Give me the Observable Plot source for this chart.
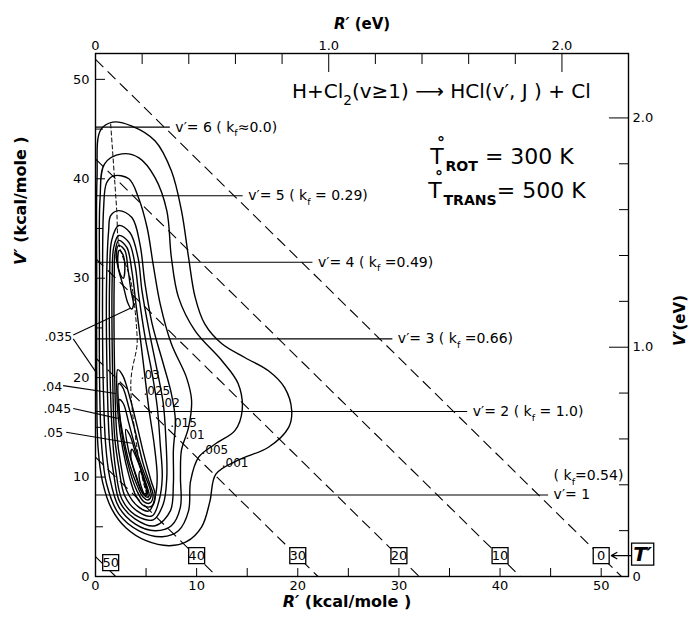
<!DOCTYPE html>
<html><head><meta charset="utf-8">
<script src="https://cdn.jsdelivr.net/npm/d3@7"></script>
<script src="https://cdn.jsdelivr.net/npm/@observablehq/plot@0.6"></script>
<style>body{margin:0;background:#fff} #chart svg{font-family:"DejaVu Sans",sans-serif;}</style>
</head><body><div id="chart"></div>
<script>
// ---------- data ----------
const E_TOTAL = 52.0;           // R'+V' at T' = 0 (kcal/mole)
const KCAL_PER_EV = 23.06;
const kcalTicksMajor = [0, 10, 20, 30, 40, 50];
const kcalTicksMinor = [5, 15, 25, 35, 45];
const evTicksMajor = [0, 1, 2];
const evTicksMinor = [0.2, 0.4, 0.6, 0.8, 1.2, 1.4, 1.6, 1.8];

const tPrimeValues = [0, 10, 20, 30, 40, 50];
const tBoxR = [50, 40, 30, 20, 10, 1.5];
const tBoxV = [2.1, 2.1, 2.1, 2.1, 2.1, 1.4];

const vLevels = [8.2, 16.6, 23.9, 31.6, 38.3, 45.2];
const vEnds = [44.8, 36.8, 29.4, 21.5, 14.6, 7.4];
const vNames = ["v′= 1", "v′= 2", "v′= 3", "v′= 4", "v′= 5", "v′= 6"];
const kfLabels = ["( k_{f}=0.54)", "( k_{f} = 1.0)", "( k_{f} =0.66)", "( k_{f} =0.49)", "( k_{f} = 0.29)", "( k_{f}≈0.0)"];

// contour lines (R', V') in kcal/mole
const contour001 = [[1.7,45.7],[3.6,45.3],[5.9,43.8],[7.5,40.8],[8.5,36.8],[9.2,32.1],[9.85,28.1],[10.8,25.4],[12.5,23.4],[14.8,22.0],[17.1,20.7],[18.7,19.0],[19.4,16.7],[19.1,15.0],[17.1,13.0],[14.1,11.7],[11.9,10.3],[11.3,7.5],[10.5,5.0],[9.0,3.5],[7.3,3.1],[5.0,3.6],[3.0,4.9],[1.6,6.8],[0.7,9.5],[0.25,13],[0.12,20],[0.12,30],[0.15,40],[0.5,44.9]];
const contour005 = [[2.6,42.5],[4.3,42.1],[5.9,40.1],[7.05,36.8],[7.5,32.1],[8.2,28.1],[9.85,24.7],[12.5,21.7],[14.1,19.4],[14.5,16.7],[13.8,14.7],[11.8,13.3],[10.2,12.0],[9.4,9.6],[9.2,6.6],[8.2,4.6],[6.6,4.0],[4.3,4.6],[2.3,6.3],[1.1,9.3],[0.6,13.3],[0.4,20],[0.4,30],[0.45,38],[0.9,41.5]];
const contour01 = [[1.8,40.3],[3.3,40.0],[4.25,38.1],[5.1,35.1],[5.7,31.4],[6.4,27.4],[7.5,23.4],[9.0,20.0],[9.5,17.7],[9.2,15.0],[8.5,12.7],[8.4,10.0],[8.4,7.0],[7.5,5.1],[5.9,4.6],[3.9,5.3],[2.3,7.0],[1.4,10.0],[1.0,13.3],[0.75,20],[0.7,30],[0.8,37],[1.1,39.6]];
const contour015 = [[2.3,36.8],[3.6,36.1],[4.4,33.4],[4.9,29.4],[5.6,25.4],[6.7,21.4],[7.5,18.4],[7.9,15.7],[7.7,12.7],[7.7,9.3],[7.4,6.6],[5.9,5.1],[3.9,5.8],[2.4,7.5],[1.8,10.3],[1.4,13.3],[1.15,20],[1.1,30],[1.3,34.8],[1.5,36.3]];
const contour02 = [[2.3,35.3],[3.4,34.6],[4.2,32.1],[4.6,28.7],[5.3,24.7],[6.1,20.7],[6.7,17.4],[6.95,14.0],[7.05,10.0],[6.7,7.3],[5.7,5.7],[3.9,6.2],[2.6,7.8],[2.0,10.7],[1.7,13.7],[1.45,20],[1.4,30],[1.6,33.8]];
const contour025 = [[2.3,34.3],[3.3,33.6],[3.9,31.4],[4.3,28.1],[4.9,24.1],[5.6,20.4],[6.1,17.1],[6.4,13.3],[6.6,10.0],[6.3,7.7],[5.6,6.1],[4.1,6.6],[2.9,8.1],[2.3,11.0],[1.9,14.0],[1.7,20],[1.65,30],[1.8,33.1]];
const contour03 = [[2.3,33.8],[3.1,33.1],[3.6,30.7],[4.0,27.4],[4.5,23.4],[4.9,20.0],[5.3,16.7],[5.8,13.3],[6.1,10.0],[5.9,8.0],[5.3,6.6],[4.25,7.0],[3.1,8.6],[2.5,11.3],[2.1,14.4],[1.9,20],[1.85,30],[1.95,32.7]];
const contour035Upper = [[2.3,33.3],[2.9,32.8],[3.2,31.0],[3.5,28.8],[3.75,27.3],[3.55,26.9],[3.2,27.5],[2.8,29.0],[2.3,30.8],[2.05,32.3]];
const contour04Upper = [[2.35,32.8],[2.7,32.4],[2.9,31.2],[2.75,30.0],[2.45,30.4],[2.2,31.6]];
const contour035Lower = [[2.2,20.8],[2.7,20.2],[3.4,18.0],[4.1,15.2],[4.8,12.2],[5.5,9.6],[5.9,8.2],[5.6,7.1],[4.8,7.1],[4.0,8.1],[3.3,10.2],[2.7,12.8],[2.25,16],[2.1,19]];
const contour04Lower = [[2.3,19.4],[2.7,19.0],[3.3,17.0],[4.0,14.3],[4.7,11.4],[5.4,9.2],[5.7,8.2],[5.4,7.4],[4.8,7.5],[4.1,8.6],[3.4,10.6],[2.8,13.2],[2.35,16.5]];
const contour045Lower = [[2.35,17.8],[2.75,17.4],[3.3,15.4],[4.0,12.8],[4.8,10.4],[5.4,8.8],[5.5,8.1],[5.2,7.7],[4.7,8.0],[4.1,9.2],[3.4,11.2],[2.8,13.8],[2.4,16.2]];
const contour05Lower = [[3.0,14.8],[3.4,14.2],[4.0,12.3],[4.7,10.2],[5.2,8.7],[5.3,8.1],[5.0,8.0],[4.5,8.7],[3.8,10.7],[3.2,13.0]];
const contour055Lower = [[3.6,12.8],[4.1,11.8],[4.8,9.8],[5.15,8.5],[5.0,8.15],[4.6,8.5],[4.0,10.2],[3.5,12.0]];
const contour06Lower = [[4.4,10.6],[4.9,9.2],[5.05,8.45],[4.85,8.3],[4.5,9.1],[4.3,10.1]];

const ridgeR = [1.5, 2.1, 2.3, 3.5, 4.1, 4.1, 3.5, 4.0, 4.7, 5.2];
const ridgeV = [45.5, 36.8, 33.5, 29.7, 24.4, 23.2, 19.7, 13.7, 9.6, 7.9];

const contourLabelText = [".03", ".025", ".02", ".015", ".01", ".005", ".001"];
const contourLabelR = [5.4, 6.06, 7.4, 8.7, 9.85, 11.8, 13.8];
const contourLabelV = [20.2, 18.6, 17.4, 15.4, 14.2, 12.7, 11.4];

const leftLabelText = [".035", ".04", ".045", ".05"];
const leftLabelR = [-2.3, -3.3, -2.4, -3.2];
const leftLabelV = [24.1, 19.1, 16.8, 14.4];
const leaderFromR = [-2.2, -2.2, -3.2, -2.2, -2.9];
const leaderFromV = [24.3, 23.9, 19.2, 16.9, 14.5];
const leaderToR = [3.5, 0.15, 2.0, 2.2, 3.6];
const leaderToV = [27.0, 20.4, 18.4, 15.9, 13.4];

// ---------- build tables ----------
const contourSets = [
  ["c001", contour001], ["c005", contour005], ["c01", contour01], ["c015", contour015],
  ["c02", contour02], ["c025", contour025], ["c03", contour03],
  ["c035u", contour035Upper], ["c04u", contour04Upper],
  ["c035l", contour035Lower], ["c04l", contour04Lower], ["c045l", contour045Lower], ["c05l", contour05Lower],
  ["c055l", contour055Lower], ["c06l", contour06Lower]
];
const contourRows = contourSets.flatMap(([id, pts]) => pts.map(([r, v]) => ({id, r, v})));
const ridgeRows = ridgeR.map((r, i) => ({r, v: ridgeV[i]}));

const evFmt = d => { const e = Math.round(d / KCAL_PER_EV * 10) / 10; return e === 0 ? "0" : e.toFixed(1); };

const svg = Plot.plot({
  width: 688, height: 620,
  marginLeft: 95, marginRight: 60, marginTop: 53, marginBottom: 44,
  style: {fontFamily: "DejaVu Sans, sans-serif", background: "white", color: "black"},
  x: {domain: [0, 52.7], axis: null},
  y: {domain: [0, 52.6], axis: null},
  marks: [
    // dashed T' lines
    Plot.link(tPrimeValues, {x1: () => 0, y1: t => E_TOTAL - t, x2: t => E_TOTAL - t, y2: () => 0,
      stroke: "black", strokeWidth: 1.1, strokeDasharray: "11,6"}),
    // v' lines
    Plot.ruleY(vLevels, {y: d => d, x1: () => 0, x2: (d, i) => vEnds[i], stroke: "black", strokeWidth: 1.1}),
    // contours
    Plot.line(contourRows, {x: "r", y: "v", z: "id", curve: "catmull-rom-closed", stroke: "black", strokeWidth: 1.4}),
    Plot.line(ridgeRows, {x: "r", y: "v", curve: "catmull-rom", stroke: "black", strokeWidth: 1, strokeDasharray: "4,3"}),
    // contour labels
    Plot.text(contourLabelText, {x: (d, i) => contourLabelR[i], y: (d, i) => contourLabelV[i], text: d => d, fontSize: 12, fill: "black"}),
    Plot.text(leftLabelText, {x: (d, i) => leftLabelR[i], y: (d, i) => leftLabelV[i], text: d => d, fontSize: 12.5, textAnchor: "end", fill: "black"}),
    Plot.link(leaderFromR, {x1: d => d, y1: (d, i) => leaderFromV[i], x2: (d, i) => leaderToR[i], y2: (d, i) => leaderToV[i], stroke: "black", strokeWidth: 1.1}),
    // v' labels
    Plot.text(vLevels, {x: (d, i) => vEnds[i], y: d => d, dx: 5, textAnchor: "start", fontSize: 14, fill: "black",
      text: (d, i) => i === 0 ? vNames[i] : vNames[i] + " " + kfLabels[i]}),
    Plot.text([vLevels[0]], {x: () => vEnds[0], y: d => d, dx: 5, dy: -19, textAnchor: "start", fontSize: 14, fill: "black", text: () => kfLabels[0]}),
    // T' boxes
    Plot.dot(tPrimeValues, {x: (t, i) => tBoxR[i], y: (t, i) => tBoxV[i], symbol: "square", r: 9, fill: "white", stroke: "black", strokeWidth: 1.3}),
    Plot.text(tPrimeValues, {x: (t, i) => tBoxR[i], y: (t, i) => tBoxV[i], text: t => String(t), fontSize: 13, fill: "black"}),
    Plot.arrow([0], {x1: () => 53.05, y1: () => 2.1, x2: () => 51.0, y2: () => 2.1, stroke: "black", strokeWidth: 1.2, headLength: 8}),
    Plot.dot([0], {x: () => 54.1, y: () => 2.25, symbol: "square", r: 12.5, fill: "white", stroke: "black", strokeWidth: 1.3}),
    Plot.text(["T′"], {x: () => 54.1, y: () => 2.25, text: d => d, fontSize: 20, fontWeight: "bold", fontStyle: "italic", fill: "black"}),
    // annotations
    Plot.text(["H+Cl_{2}(v≥1) ⟶ HCl(v′, J ) + Cl"], {x: () => 34.2, y: () => 48.1, text: d => d, lineAnchor: "bottom", textAnchor: "middle", fontSize: 20, fill: "black"}),
    Plot.text(["T^{°}!{ROT} = 300 K"], {x: () => 33.1, y: () => 41.5, text: d => d, lineAnchor: "bottom", textAnchor: "start", fontSize: 22, fill: "black"}),
    Plot.text(["T^{°}!{TRANS}= 500 K"], {x: () => 32.9, y: () => 38.1, text: d => d, lineAnchor: "bottom", textAnchor: "start", fontSize: 22, fill: "black"}),
    // axes
    Plot.frame({stroke: "black", strokeWidth: 1.4}),
    Plot.axisX(kcalTicksMajor, {anchor: "bottom", tickSize: -8, tickPadding: 12, fontSize: 13, label: null}),
    Plot.axisX(kcalTicksMinor, {anchor: "bottom", tickSize: -8, tickFormat: () => "", label: null}),
    Plot.axisY(kcalTicksMajor, {anchor: "left", tickSize: -10, tickPadding: 16, fontSize: 13, label: null}),
    Plot.axisY(kcalTicksMinor, {anchor: "left", tickSize: -8, tickFormat: () => "", label: null}),
    Plot.axisX(evTicksMajor.map(e => e * KCAL_PER_EV), {anchor: "top", tickSize: -18, tickPadding: 22, fontSize: 13, tickFormat: evFmt, label: null}),
    Plot.axisX(evTicksMinor.map(e => e * KCAL_PER_EV), {anchor: "top", tickSize: -10, tickFormat: () => "", label: null}),
    Plot.axisY(evTicksMajor.map(e => e * KCAL_PER_EV), {anchor: "right", tickSize: -20, tickPadding: 24, textAnchor: "start", fontSize: 13, tickFormat: evFmt, label: null}),
    Plot.axisY(evTicksMinor.map(e => e * KCAL_PER_EV), {anchor: "right", tickSize: -10, tickFormat: () => "", label: null}),
    // axis titles
    Plot.text(["~{R′} (kcal/mole )"], {frameAnchor: "bottom", dx: -15, dy: 30, text: d => d, fontSize: 16, fontWeight: "bold", fill: "black"}),
    Plot.text(["~{R′} (eV)"], {frameAnchor: "top", dx: 0, dy: -35, text: d => d, fontSize: 15, fontWeight: "bold", fill: "black"}),
    Plot.text(["~{V′} (kcal/mole )"], {frameAnchor: "left", dx: -75, dy: -50, rotate: -90, text: d => d, fontSize: 16, fontWeight: "bold", fill: "black"}),
    Plot.text(["~{V′}(eV)"], {frameAnchor: "right", dx: 52, dy: -20, rotate: -90, text: d => d, fontSize: 15, fontWeight: "bold", fill: "black"})
  ]
});
document.getElementById("chart").appendChild(svg);

// rich text: _{sub}, !{bold sub}, ^{ring over previous letter}, ~{italic}
function richText(root) {
  root.querySelectorAll("text").forEach(el => {
    const s = el.textContent;
    if (!/[_!~^]\{/.test(s)) return;
    const fs = parseFloat(getComputedStyle(el).fontSize) || 12;
    el.textContent = "";
    const re = /([_!~^])\{([^}]*)\}/g;
    let last = 0, m, shift = 0, pendingDx = 0;
    const add = (txt, kind) => {
      if (!txt) return;
      const ts = document.createElementNS("http://www.w3.org/2000/svg", "tspan");
      ts.textContent = txt;
      let target = 0;
      if (kind === "_" || kind === "!") {
        target = fs * 0.33;
        ts.setAttribute("font-size", fs * (kind === "!" ? 0.64 : 0.68));
        if (kind === "!") ts.setAttribute("font-weight", "bold");
      } else if (kind === "^") {
        target = -fs * 0.7;
        ts.setAttribute("font-size", fs * 0.72);
        ts.setAttribute("font-weight", "bold");
        ts.setAttribute("dx", -fs * 0.3);
        pendingDx = fs * 0.02;
      } else if (kind === "~") {
        ts.setAttribute("font-style", "italic");
      }
      if (kind !== "^" && pendingDx) { ts.setAttribute("dx", pendingDx); pendingDx = 0; }
      if (target !== shift) { ts.setAttribute("dy", target - shift); shift = target; }
      el.appendChild(ts);
    };
    while ((m = re.exec(s))) { add(s.slice(last, m.index), ""); add(m[2], m[1]); last = re.lastIndex; }
    add(s.slice(last), "");
  });
}
richText(svg);
</script>
</body></html>
